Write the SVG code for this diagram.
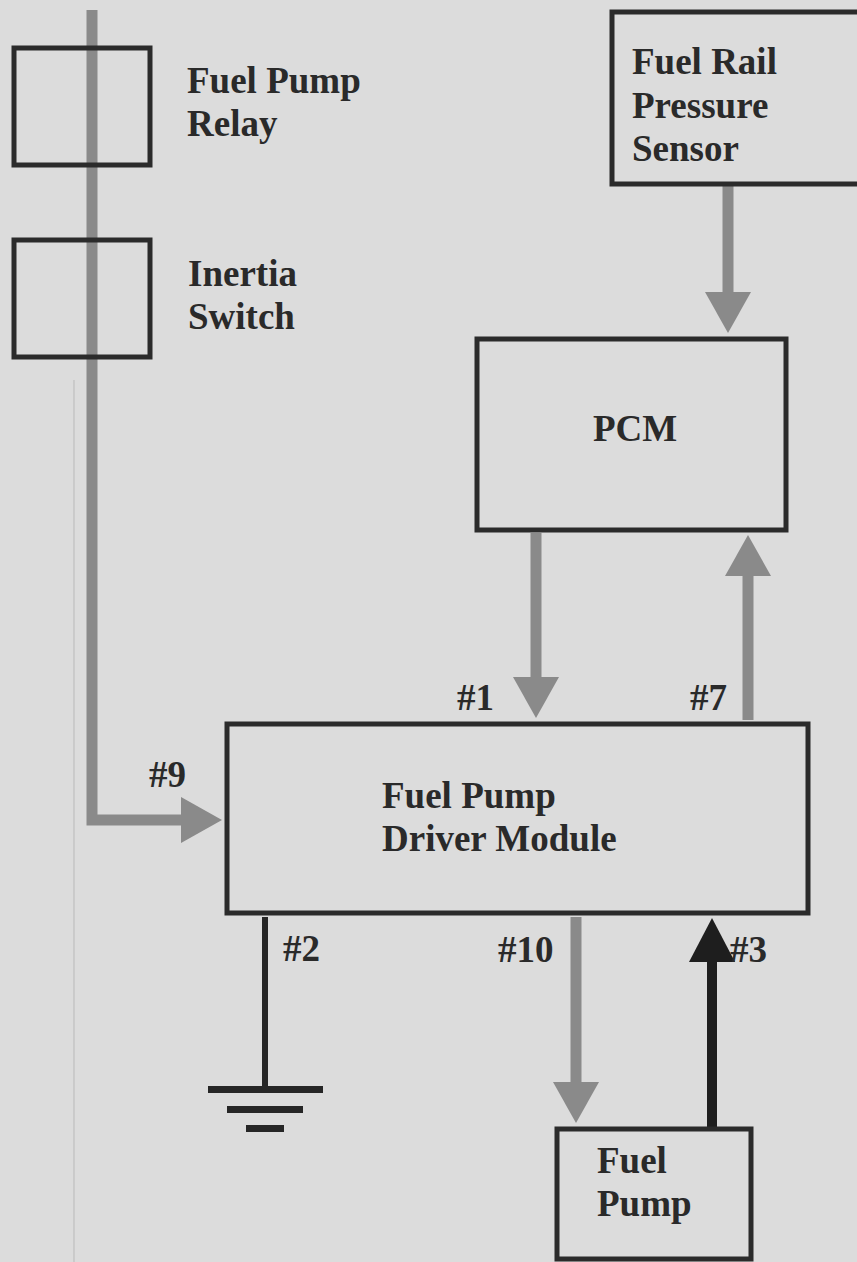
<svg xmlns="http://www.w3.org/2000/svg" width="857" height="1262" viewBox="0 0 857 1262">
<style>
.bg{fill:#dcdcdc}
.box{fill:none;stroke:#2b2b2b;stroke-width:5}
.lbl{font-family:"Liberation Serif","Times New Roman",serif;font-weight:bold;font-size:37px;fill:#2a2a2a}
.wire{fill:none;stroke:#8a8a8a;stroke-width:11}
.wire-dark{fill:none;stroke:#1e1e1e;stroke-width:10}
.gnd{fill:none;stroke:#262626;stroke-width:6}
.bar{fill:#262626}
</style>
<defs>
<marker id="ahGray" markerUnits="userSpaceOnUse" markerWidth="42" markerHeight="46" refX="0" refY="23" orient="auto">
<path d="M0,0 L41,23 L0,46 Z" fill="#8a8a8a"/>
</marker>
<marker id="ahDark" markerUnits="userSpaceOnUse" markerWidth="45" markerHeight="46" refX="0" refY="23" orient="auto">
<path d="M0,0 L44,23 L0,46 Z" fill="#1e1e1e"/>
</marker>
</defs>
<rect class="bg" x="0" y="0" width="857" height="1262"/>
<line x1="74" y1="380" x2="74" y2="1262" stroke="#b9b9b9" stroke-width="1"/>

<g id="connectors">
<path class="wire" d="M92,10 V820 H181" marker-end="url(#ahGray)"/>
<path class="wire" d="M728,186 V292" marker-end="url(#ahGray)"/>
<path class="wire" d="M536,533 V677" marker-end="url(#ahGray)"/>
<path class="wire" d="M748,720 V576" marker-end="url(#ahGray)"/>
<path class="wire" d="M576,917 V1082" marker-end="url(#ahGray)"/>
<path class="wire-dark" d="M712,1127 V962" marker-end="url(#ahDark)"/>
<g id="ground">
<path class="gnd" d="M265,917 V1090"/>
<rect class="bar" x="208" y="1086" width="115" height="7"/>
<rect class="bar" x="227" y="1106" width="76" height="7"/>
<rect class="bar" x="246" y="1125" width="38" height="7"/>
</g>
<text class="lbl" x="457" y="710">#1</text>
<text class="lbl" x="690" y="710">#7</text>
<text class="lbl" x="149" y="787">#9</text>
<text class="lbl" x="283" y="961">#2</text>
<text class="lbl" x="498" y="962">#10</text>
<text class="lbl" x="730" y="962">#3</text>
</g>

<g id="fuel-pump-relay">
<rect class="box" x="14" y="48" width="136" height="117"/>
<text class="lbl" x="187" y="93">Fuel Pump</text>
<text class="lbl" x="187" y="136">Relay</text>
</g>

<g id="inertia-switch">
<rect class="box" x="14" y="240" width="136" height="117"/>
<text class="lbl" x="188" y="286">Inertia</text>
<text class="lbl" x="188" y="329">Switch</text>
</g>

<g id="fuel-rail-pressure-sensor">
<rect class="box" x="612" y="12" width="270" height="172"/>
<text class="lbl" x="632" y="74">Fuel Rail</text>
<text class="lbl" x="632" y="118">Pressure</text>
<text class="lbl" x="632" y="161">Sensor</text>
</g>

<g id="pcm">
<rect class="box" x="477" y="339" width="309" height="191"/>
<text class="lbl" x="593" y="441">PCM</text>
</g>

<g id="fuel-pump-driver-module">
<rect class="box" x="227" y="724" width="581" height="189"/>
<text class="lbl" x="382" y="808">Fuel Pump</text>
<text class="lbl" x="382" y="851">Driver Module</text>
</g>

<g id="fuel-pump">
<rect class="box" x="557" y="1129" width="194" height="130"/>
<text class="lbl" x="597" y="1173">Fuel</text>
<text class="lbl" x="597" y="1216">Pump</text>
</g>
</svg>
